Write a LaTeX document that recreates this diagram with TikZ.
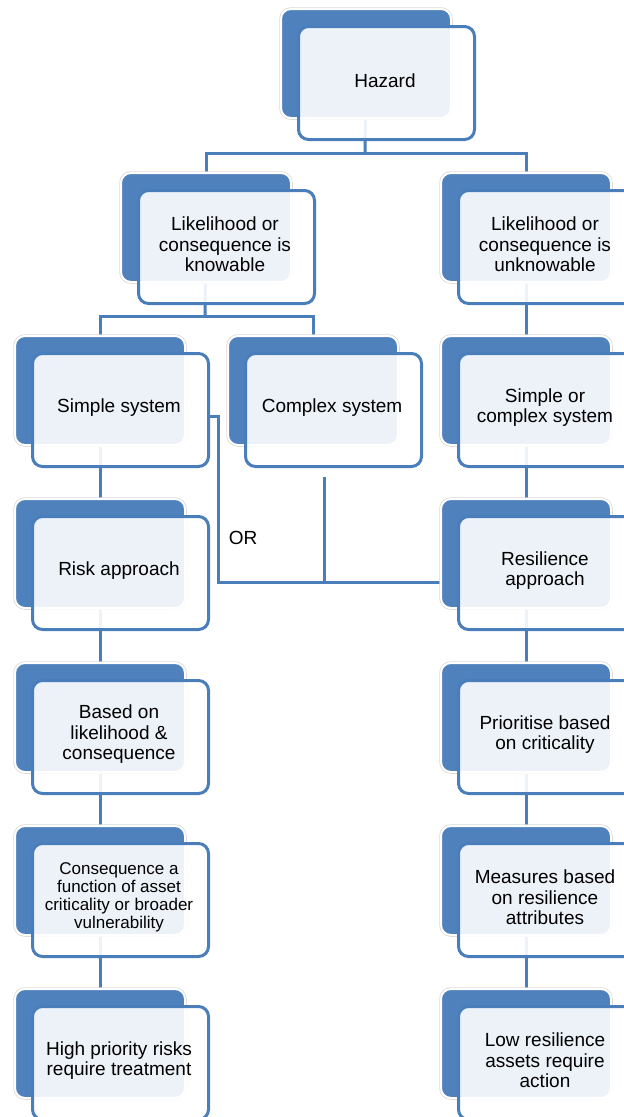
\documentclass[tikz,border=0pt]{standalone}
\usepackage{fontspec}
\setmainfont{Liberation Sans}
\definecolor{bblue}{HTML}{4F81BD}
\definecolor{lblue}{HTML}{4A7EBB}
\pgfdeclarelayer{bg}
\pgfdeclarelayer{mid}
\pgfsetlayers{bg,mid,main}
\tikzset{
 backbox/.style={rounded corners=10pt, fill=bblue, draw=white, line width=2pt,
   preaction={draw=black!15, line width=3.5pt},
   minimum width=170pt, minimum height=109pt, inner sep=0pt, anchor=north west},
 frontbox/.style={rounded corners=10pt, fill=white, fill opacity=0.9,
   draw=lblue, line width=3pt, minimum width=176pt, minimum height=113pt,
   anchor=north west, inner sep=0pt},
 boxtext/.style={align=center, inner sep=0pt, font=\fontsize{19}{20.5}\selectfont},
 smalltext/.style={font=\fontsize{17}{18}\selectfont},
 conn/.style={draw=lblue, line width=3pt},
}
\newcommand\pairbox[5]{%
 \begin{pgfonlayer}{mid}\node[backbox] (#1b) at (#2,#3) {};\end{pgfonlayer}
 \node[frontbox] (#1) at (#2+17,#3+17) {};
 \node[boxtext,#4] (#1t) at ([xshift=-1.5pt,yshift=2.5pt]#1.center) {#5};
}
\begin{document}
\begin{tikzpicture}[x=1pt,y=-1pt]
\useasboundingbox (0,0) rectangle (624,1117);
\pairbox{hz}{280}{8}{}{Hazard}
\pairbox{ka}{120}{172}{}{Likelihood or\\consequence is\\knowable}
\pairbox{ua}{440}{172}{}{Likelihood or\\consequence is\\unknowable}
\pairbox{ss}{14}{335}{}{Simple system}
\pairbox{cs}{227}{335}{}{Complex system}
\pairbox{sc}{440}{335}{}{Simple or\\complex system}
\pairbox{ra}{14}{498}{}{Risk approach}
\pairbox{re}{440}{498}{}{Resilience\\approach}
\pairbox{bl}{14}{662}{}{Based on\\likelihood \&\\consequence}
\pairbox{pc}{440}{662}{}{Prioritise based\\on criticality}
\pairbox{cf}{14}{825}{smalltext}{Consequence a\\function of asset\\criticality or broader\\vulnerability}
\pairbox{mr}{440}{825}{}{Measures based\\on resilience\\attributes}
\pairbox{hp}{14}{988}{}{High priority risks\\require treatment}
\pairbox{lr}{440}{988}{}{Low resilience\\assets require\\action}

\node[font=\fontsize{19}{20.5}\selectfont] (or) at (243,538) {OR};

\coordinate (j1) at (365,153);
\coordinate (j2) at (205,316);
\coordinate (j3) at (218,582);
\coordinate (j4) at (324,477);
\begin{pgfonlayer}{bg}
\draw[conn] (hzb.center) -- (j1);
\draw[conn] (kab.center) |- (j1) -| (uab.center);
\draw[conn] (kab.center) -- (j2);
\draw[conn] (ssb.center) |- (j2) -| (csb.center);
\draw[conn] (uab.center) -- (scb.center);
\draw[conn] (ssb.center) -- (rab.center) -- (blb.center) -- (cfb.center) -- (hpb.center);
\draw[conn] (scb.center) -- (reb.center) -- (pcb.center) -- (mrb.center) -- (lrb.center);
\draw[conn] ([yshift=-6pt]ss.east) -| (j3) -- (reb.west |- j3);
\draw[conn] (j4) -- (j4 |- j3);
\end{pgfonlayer}
\end{tikzpicture}
\end{document}
